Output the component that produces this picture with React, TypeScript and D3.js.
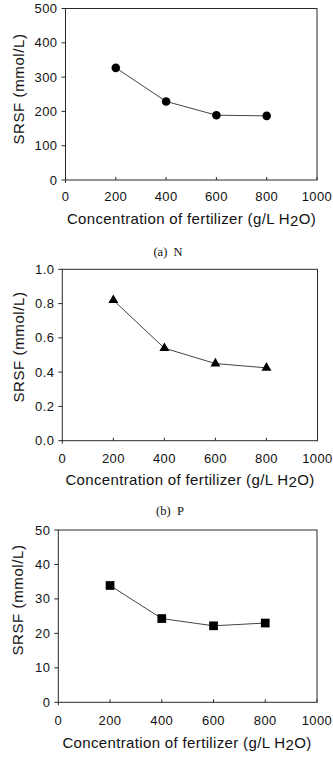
import React from "react";
import * as d3 from "d3";

// Fertilizer concentration (g/L H2O)
const concentrations = [200, 400, 600, 800];
const xTicks = [0, 200, 400, 600, 800, 1000];

// SRSF values (mmol/L) per nutrient
const nValues = [327, 229, 189, 187];
const pValues = [0.82, 0.54, 0.45, 0.425];
const kValues = [33.9, 24.3, 22.2, 23.0];

const nTicks = [0, 100, 200, 300, 400, 500];
const pTicks = [0, 0.2, 0.4, 0.6, 0.8, 1.0];
const kTicks = [0, 10, 20, 30, 40, 50];

const captions = ["(a)\u00a0\u00a0N", "(b)\u00a0\u00a0P"];

const SANS = "'Liberation Sans', Arial, sans-serif";
const SERIF = "'Liberation Serif', 'Times New Roman', serif";
const AXIS = "#2a2a2a";

type PanelProps = {
  values: number[];
  yTicks: number[];
  yFmt: (v: number) => string;
  left: number;
  right: number;
  top: number;
  bottom: number;
  tickBase: number;
  titleBase: number;
  titleX: number;
  yLabelX: number;
  yLabelY: number;
  symbol: d3.SymbolType;
  symbolSize: number;
  caption?: string;
  captionX?: number;
  captionY?: number;
};

function Panel(p: PanelProps) {
  const x = d3.scaleLinear().domain([0, 1000]).range([p.left, p.right]);
  const y = d3
    .scaleLinear()
    .domain([p.yTicks[0], p.yTicks[p.yTicks.length - 1]])
    .range([p.bottom, p.top]);
  const line = d3
    .line<number>()
    .x((_, i) => x(concentrations[i]))
    .y((v) => y(v));
  const sym = d3.symbol().type(p.symbol).size(p.symbolSize)()!;
  return (
    <g>
      {/* frame */}
      <rect
        x={p.left}
        y={p.top}
        width={p.right - p.left}
        height={p.bottom - p.top}
        fill="none"
        stroke={AXIS}
        strokeWidth={1}
      />
      {/* y ticks */}
      {p.yTicks.map((t) => (
        <g key={"y" + t}>
          <line x1={p.left - 4} x2={p.left} y1={y(t)} y2={y(t)} stroke={AXIS} />
          <text
            x={p.left - 8}
            y={y(t)}
            dy="0.35em"
            textAnchor="end"
            fontFamily={SANS}
            fontSize={13}
            letterSpacing={0.4}
            fill="#111"
          >
            {p.yFmt(t)}
          </text>
        </g>
      ))}
      {/* x ticks */}
      {xTicks.map((t) => (
        <g key={"x" + t}>
          <line
            x1={x(t)}
            x2={x(t)}
            y1={p.bottom}
            y2={t === 0 ? p.bottom + 3 : p.bottom - 3}
            stroke={AXIS}
          />
          <text
            x={x(t)}
            y={p.tickBase}
            textAnchor="middle"
            fontFamily={SANS}
            fontSize={13}
            letterSpacing={0.4}
            fill="#111"
          >
            {t}
          </text>
        </g>
      ))}
      {/* axis titles */}
      <text
        x={p.titleX}
        y={p.titleBase}
        textAnchor="middle"
        fontFamily={SANS}
        fontSize={15}
        letterSpacing={0.35}
        fill="#111"
      >
        Concentration of fertilizer (g/L H<tspan dy={2}>2</tspan>
        <tspan dy={-2}>O)</tspan>
      </text>
      <text
        transform={`translate(${p.yLabelX},${p.yLabelY}) rotate(-90)`}
        textAnchor="middle"
        fontFamily={SANS}
        fontSize={15}
        letterSpacing={0.6}
        fill="#111"
      >
        SRSF (mmol/L)
      </text>
      {/* series */}
      <path d={line(p.values)!} fill="none" stroke="#444" strokeWidth={1} />
      {p.values.map((v, i) => (
        <path
          key={i}
          d={sym}
          transform={`translate(${x(concentrations[i])},${y(v)})`}
          fill="#000"
        />
      ))}
      {p.caption && (
        <text
          x={p.captionX}
          y={p.captionY}
          textAnchor="middle"
          fontFamily={SERIF}
          fontSize={12.5}
          fill="#111"
        >
          {p.caption}
        </text>
      )}
    </g>
  );
}

export default function App() {
  return (
    <svg
      width={333}
      height={766}
      style={{ position: "absolute", left: 0, top: 0, background: "#fff" }}
    >
      <rect width={333} height={766} fill="#fff" />
      <Panel
        values={nValues}
        yTicks={nTicks}
        yFmt={(v) => String(v)}
        left={65.5}
        right={317}
        top={8.5}
        bottom={180}
        tickBase={201}
        titleBase={224}
        titleX={191.5}
        yLabelX={23.5}
        yLabelY={89}
        symbol={d3.symbolCircle}
        symbolSize={58}
        caption={captions[0]}
        captionX={168}
        captionY={256}
      />
      <Panel
        values={pValues}
        yTicks={pTicks}
        yFmt={(v) => v.toFixed(1)}
        left={62.3}
        right={317.5}
        top={269.3}
        bottom={440.7}
        tickBase={463}
        titleBase={485}
        titleX={190}
        yLabelX={24}
        yLabelY={347}
        symbol={d3.symbolTriangle}
        symbolSize={43}
        caption={captions[1]}
        captionX={170}
        captionY={515}
      />
      <Panel
        values={kValues}
        yTicks={kTicks}
        yFmt={(v) => String(v)}
        left={58.3}
        right={317}
        top={530}
        bottom={702.3}
        tickBase={725}
        titleBase={748}
        titleX={187}
        yLabelX={23}
        yLabelY={600}
        symbol={d3.symbolSquare}
        symbolSize={76}
      />
    </svg>
  );
}
